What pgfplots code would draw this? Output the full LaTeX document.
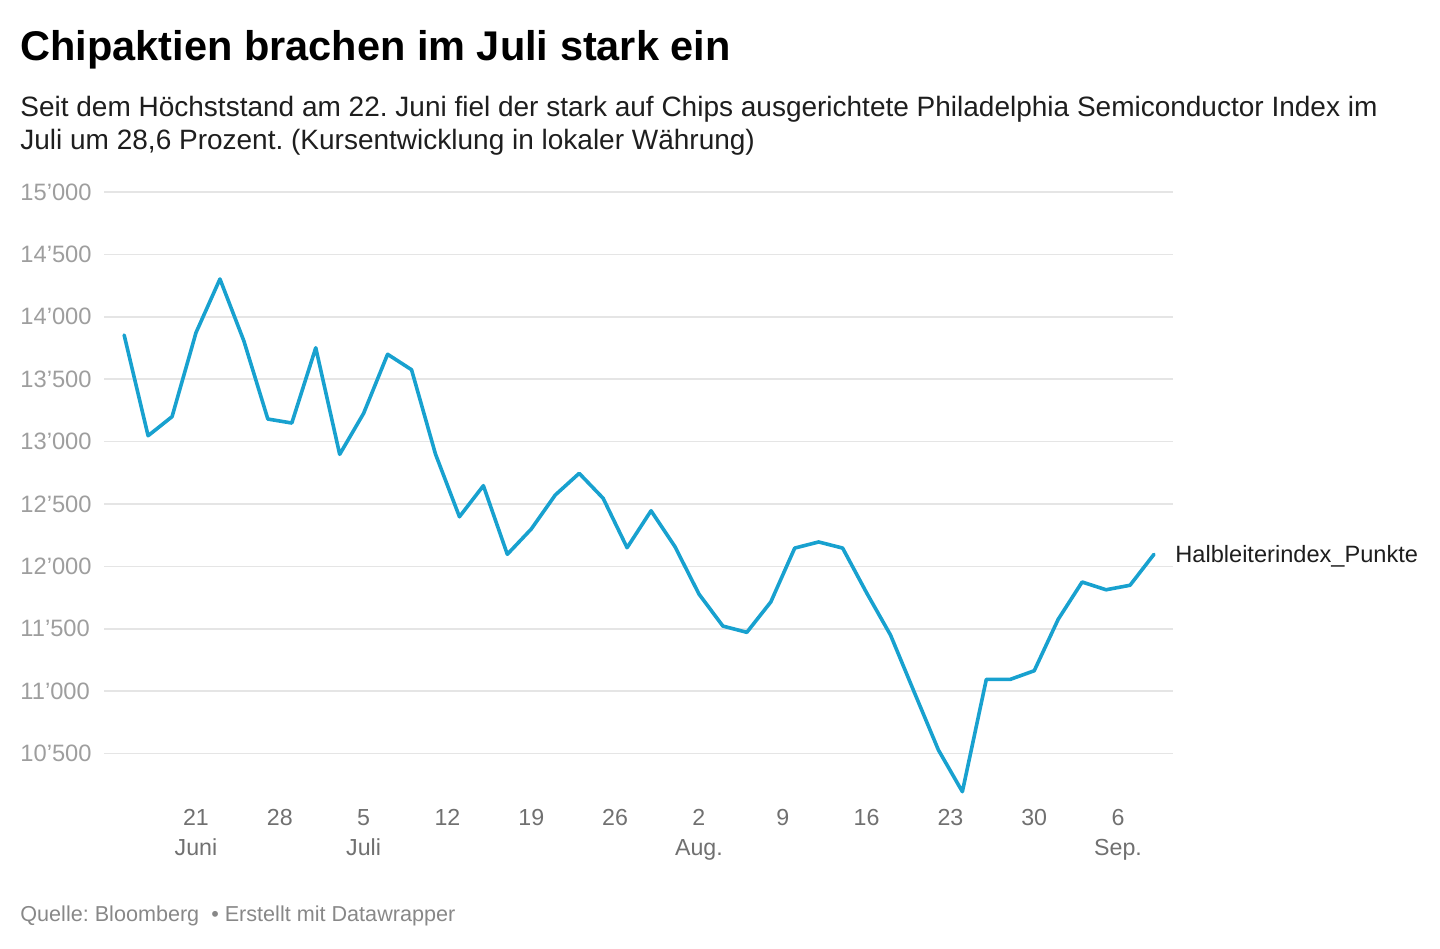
\documentclass[border=0pt]{standalone}
\usepackage{fontspec}
\setmainfont{Liberation Sans}
\usepackage{pgfplots}
\usepackage{pgfplotstable}
\pgfplotsset{compat=1.18}
\newlength\px \setlength\px{0.5pt}
\definecolor{linec}{RGB}{24,161,207}
\definecolor{gridc}{RGB}{229,229,229}
\definecolor{ylab}{RGB}{158,158,158}
\definecolor{xlab}{RGB}{112,112,112}
\definecolor{foot}{RGB}{136,136,136}
\definecolor{txt}{RGB}{30,30,30}
\pgfplotstableread{
d value
-6 13854
-4 13047
-2 13200
0 13873
2 14303
4 13806
6 13181
8 13149
10 13752
12 12898
14 13227
16 13700
18 13576
20 12900
22 12398
24 12647
26 12097
28 12300
30 12572
32 12746
34 12546
36 12150
38 12446
40 12158
42 11779
44 11522
46 11472
48 11715
50 12147
52 12196
54 12147
56 11789
58 11450
60 10988
62 10529
64 10195
66 11095
68 11095
70 11164
72 11576
74 11875
76 11813
78 11849
80 12097
}\datatable
\frenchspacing
\begin{document}
\begin{tikzpicture}
\path[use as bounding box] (0,0) rectangle (1440\px,-948\px);
\node[anchor=base west, inner sep=0pt, font=\fontsize{20.75pt}{24pt}\selectfont\bfseries] at (20\px,-60\px) {Chipaktien brachen im Juli stark ein};
\node[anchor=base west, inner sep=0pt, text=txt, font=\fontsize{14pt}{16pt}\selectfont] at (20\px,-116\px) {Seit dem Höchststand am 22. Juni fiel der stark auf Chips ausgerichtete Philadelphia Semiconductor Index im};
\node[anchor=base west, inner sep=0pt, text=txt, font=\fontsize{14pt}{16pt}\selectfont] at (20\px,-149\px) {Juli um 28,6 Prozent. (Kursentwicklung in lokaler Währung)};
\node[anchor=base west, inner sep=0pt, text=foot, font=\fontsize{10.8pt}{12pt}\selectfont] at (20\px,-921\px) {Quelle: Bloomberg\ \ • Erstellt mit Datawrapper};
\begin{axis}[
  at={(104\px,-192\px)}, anchor=north west,
  scale only axis, width=1069\px, height=605.3\px,
  xmin=-7.683, xmax=81.59, ymin=10150, ymax=15000,
  clip=false,
  scaled y ticks=false, scaled x ticks=false,
  axis line style={draw=none},
  tick style={draw=none},
  ymajorgrids, grid style={gridc, line width=1.5\px},
  ytick={10500,11000,11500,12000,12500,13000,13500,14000,14500,15000},
  yticklabels={10'500,11'000,11'500,12'000,12'500,13'000,13'500,14'000,14'500,15'000},
  yticklabel style={anchor=west, inner sep=0pt, xshift=-84\px, text=ylab, font=\fontsize{11.85pt}{13pt}\selectfont},
  xtick={0,7,14,21,28,35,42,49,56,63,70,77},
  xticklabels={21\\Juni,28,5\\Juli,12,19,26,2\\Aug.,9,16,23,30,6\\Sep.},
  xticklabel style={anchor=north, inner sep=0pt, yshift=-12\px, align=center, text=xlab, font=\fontsize{11.6pt}{15pt}\selectfont},
]
\addplot[linec, line width=3.6\px, line join=round, line cap=round] table[x=d, y=value] {\datatable};
\node[anchor=base west, inner sep=0pt, text=txt, font=\fontsize{11.8pt}{13pt}\selectfont, xshift=21\px, yshift=-7.7\px] at (axis cs:80,12097) {Halbleiterindex\_Punkte};
\end{axis}
\end{tikzpicture}
\end{document}
